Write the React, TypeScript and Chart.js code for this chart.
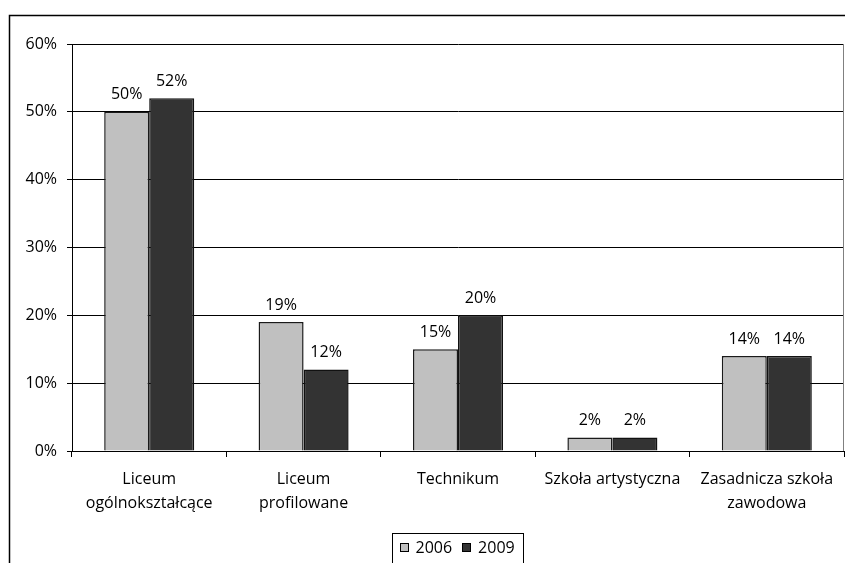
import React, { useEffect, useRef } from "react";
import { Chart, registerables } from "chart.js";

Chart.register(...registerables);

const categories: string[][] = [
  ["Liceum", "ogólnokształcące"],
  ["Liceum", "profilowane"],
  ["Technikum"],
  ["Szkoła artystyczna"],
  ["Zasadnicza szkoła", "zawodowa"],
];
const seriesLabels = ["2006", "2009"];
const values2006 = [50, 19, 15, 2, 14];
const values2009 = [52, 12, 20, 2, 14];
const seriesColors = ["#c0c0c0", "#333333"];
const yTicks = [0, 10, 20, 30, 40, 50, 60];

const FONT = "'Open Sans', sans-serif";
const FS = 16;

const framePlugin = {
  id: "frame",
  beforeDraw(chart: any) {
    const ctx = chart.ctx;
    ctx.save();
    ctx.fillStyle = "#ffffff";
    ctx.fillRect(0, 0, chart.width, chart.height);
    ctx.strokeStyle = "#000";
    ctx.lineWidth = 1.5;
    ctx.strokeRect(9.5, 15.5, chart.width + 50, chart.height + 50);
    ctx.restore();
  },
  afterDraw(chart: any) {
    const ctx = chart.ctx;
    const area = chart.chartArea;
    ctx.save();
    // plot area right border
    ctx.strokeStyle = "#808080";
    ctx.lineWidth = 1;
    ctx.beginPath();
    ctx.moveTo(area.right - 0.5, area.top);
    ctx.lineTo(area.right - 0.5, area.bottom);
    ctx.stroke();

    // legend
    ctx.font = `${FS}px ${FONT}`;
    ctx.textBaseline = "middle";
    ctx.textAlign = "left";
    const box = 9;
    const gapBoxText = 7;
    const gapItems = 10;
    const padL = 7;
    const padR = 9;
    const widths = seriesLabels.map((l) => ctx.measureText(l).width);
    let total = padL + padR;
    widths.forEach((w, i) => {
      total += box + gapBoxText + w + (i < widths.length - 1 ? gapItems : 0);
    });
    const cx = (area.left + area.right) / 2;
    const left = Math.round(cx - total / 2) + 0.5;
    const top = 533.5;
    ctx.strokeStyle = "#000";
    ctx.lineWidth = 1;
    ctx.strokeRect(left, top, Math.round(total), 60);
    let x = left + padL;
    const cy = 548;
    seriesLabels.forEach((l, i) => {
      ctx.fillStyle = seriesColors[i];
      ctx.fillRect(Math.round(x), cy - 5, box, box);
      ctx.strokeStyle = "#000";
      ctx.strokeRect(Math.round(x) + 0.5, cy - 4.5, box - 1, box - 1);
      x += box + gapBoxText;
      ctx.fillStyle = "#000";
      ctx.fillText(l, x, cy);
      x += widths[i] + gapItems;
    });
    ctx.restore();
  },
  afterDatasetsDraw(chart: any) {
    const ctx = chart.ctx;
    ctx.save();
    ctx.font = `${FS}px ${FONT}`;
    ctx.fillStyle = "#000";
    ctx.textAlign = "center";
    ctx.textBaseline = "middle";
    chart.data.datasets.forEach((ds: any, i: number) => {
      const meta = chart.getDatasetMeta(i);
      meta.data.forEach((bar: any, j: number) => {
        ctx.fillText(`${ds.data[j]}%`, bar.x, bar.y - 17);
      });
    });
    ctx.restore();
  },
};

export default function App() {
  const ref = useRef<HTMLCanvasElement>(null);
  useEffect(() => {
    if (!ref.current) return;
    const chart = new Chart(ref.current, {
      type: "bar",
      data: {
        labels: categories,
        datasets: [
          {
            label: seriesLabels[0],
            data: values2006,
            backgroundColor: seriesColors[0],
            borderColor: "#1a1a1a",
            borderWidth: 1.5,
            categoryPercentage: 0.583,
            barPercentage: 1,
          },
          {
            label: seriesLabels[1],
            data: values2009,
            backgroundColor: seriesColors[1],
            borderColor: "#111111",
            borderWidth: 1.5,
            categoryPercentage: 0.583,
            barPercentage: 1,
          },
        ],
      },
      options: {
        responsive: false,
        animation: false,
        devicePixelRatio: 1,
        layout: { padding: { left: 0, right: 1, top: 44, bottom: 0 } },
        plugins: {
          legend: { display: false },
          tooltip: { enabled: false },
        },
        scales: {
          x: {
            offset: true,
            grid: {
              offset: true,
              drawOnChartArea: false,
              drawTicks: true,
              tickLength: 6,
              color: "#000",
            },
            border: { display: true, color: "#000", width: 1 },
            ticks: {
              color: "#000",
              font: { family: FONT, size: FS, lineHeight: 1.5 },
              padding: 10,
              maxRotation: 0,
              autoSkip: false,
            },
            afterFit(scale: any) {
              scale.height = 112;
            },
          },
          y: {
            min: 0,
            max: 60,
            afterBuildTicks(scale: any) {
              scale.ticks = yTicks.map((v) => ({ value: v }));
            },
            grid: {
              color: "#000",
              lineWidth: 1,
              tickLength: 5,
              drawTicks: true,
            },
            border: { display: true, color: "#000", width: 1 },
            ticks: {
              color: "#000",
              font: { family: FONT, size: FS },
              padding: 10,
              callback: (v: any) => `${v}%`,
            },
            afterFit(scale: any) {
              scale.width = 72;
            },
          },
        },
      },
      plugins: [framePlugin],
    });
    return () => chart.destroy();
  }, []);
  return (
    <div style={{ position: "fixed", left: 0, top: 0, width: 845, height: 563, background: "#fff" }}>
      <canvas ref={ref} width={845} height={563} style={{ width: 845, height: 563, display: "block" }} />
    </div>
  );
}
